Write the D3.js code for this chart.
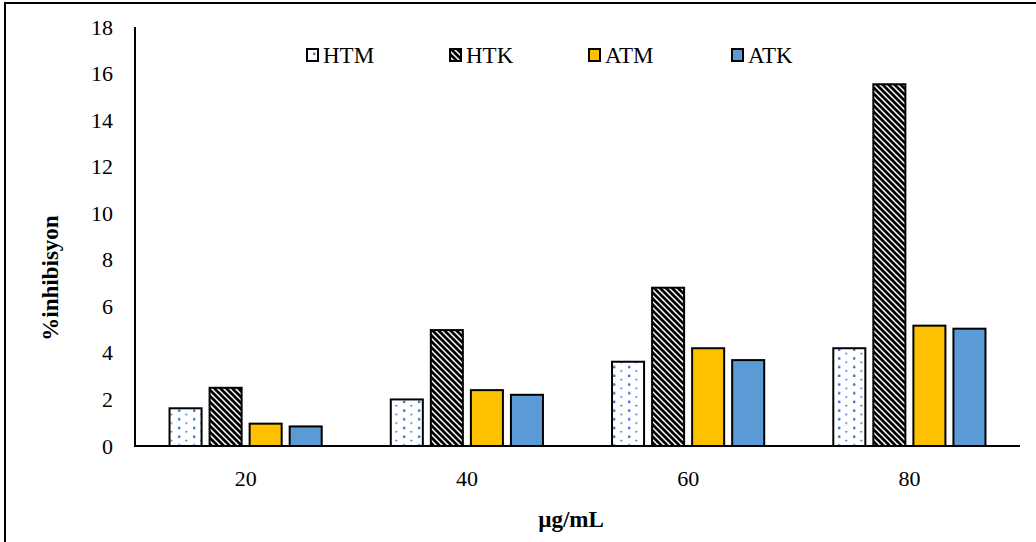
<!DOCTYPE html>
<html><head><meta charset="utf-8">
<script src="https://cdn.jsdelivr.net/npm/d3@7"></script>
<style>body{margin:0;background:#fff}svg{display:block}</style>
</head><body>
<svg id="c" width="1036" height="542"></svg>
<script>
const categories = ["20","40","60","80"];
const seriesNames = ["HTM","HTK","ATM","ATK"];
const HTM = [1.62, 2.0, 3.62, 4.2];
const HTK = [2.5, 4.98, 6.8, 15.54];
const ATM = [0.96, 2.4, 4.2, 5.17];
const ATK = [0.84, 2.2, 3.69, 5.04];
const yTicks = [0,2,4,6,8,10,12,14,16,18];
const seriesValues = {HTM, HTK, ATM, ATK};
const FONT = "Liberation Serif";

const svg = d3.select("#c");
const defs = svg.append("defs");
// dotted pattern
const pd = defs.append("pattern").attr("id","dots").attr("patternUnits","userSpaceOnUse")
  .attr("width",15).attr("height",8.7).attr("x",178).attr("y",0);
pd.append("rect").attr("width",15).attr("height",8.7).attr("fill","#fff");
pd.append("rect").attr("x",0).attr("y",0.5).attr("width",2.4).attr("height",2.4).attr("fill","#3F74D6");
pd.append("rect").attr("x",7.3).attr("y",4.8).attr("width",2).attr("height",1.4).attr("fill","#3F74D6");
// diagonal stripes
const ps = defs.append("pattern").attr("id","stripes").attr("patternUnits","userSpaceOnUse")
  .attr("width",6).attr("height",6);
ps.append("rect").attr("width",6).attr("height",6).attr("fill","#fff");
ps.append("path").attr("d","M-1,-1 L7,7 M-4,2 L4,10 M2,-4 L10,4").attr("stroke","#000").attr("stroke-width",2.7);

const fills = {HTM:"url(#dots)", HTK:"url(#stripes)", ATM:"#FFC000", ATK:"#5B9BD5"};

// outer frame
svg.append("rect").attr("x",5).attr("y",3).attr("width",1200).attr("height",800)
  .attr("fill","none").attr("stroke","#000").attr("stroke-width",2);

const x0 = d3.scaleBand().domain(categories).range([135,1020]).paddingInner(0).paddingOuter(0);
const x1 = d3.scaleBand().domain(seriesNames).range([0,x0.bandwidth()]).paddingInner(0.2).paddingOuter(0.8625);
const y = d3.scaleLinear().domain([0,18]).range([446,27]);

// bars
const g = svg.append("g");
categories.forEach((c,i)=>{
  seriesNames.forEach(s=>{
    const v = seriesValues[s][i];
    g.append("rect").attr("x",x0(c)+x1(s)).attr("y",y(v))
      .attr("width",x1.bandwidth()).attr("height",y(0)-y(v))
      .attr("fill",fills[s]).attr("stroke","#000").attr("stroke-width",2);
  });
});

// y axis
const ya = svg.append("g").attr("transform","translate(135,0)")
  .call(d3.axisLeft(y).tickValues(yTicks).tickSize(0).tickPadding(22));
ya.attr("font-family",FONT).attr("font-size",22);
ya.select(".domain").remove();
ya.selectAll("text").attr("fill","#000");
svg.append("line").attr("x1",135).attr("x2",135).attr("y1",27).attr("y2",447).attr("stroke","#000").attr("stroke-width",2);

// x axis
const xa = svg.append("g").attr("transform","translate(0,446)")
  .call(d3.axisBottom(x0).tickSize(0).tickPadding(24));
xa.attr("font-family",FONT).attr("font-size",22);
xa.select(".domain").remove();
xa.selectAll("text").attr("fill","#000");
svg.append("line").attr("x1",134).attr("x2",1020).attr("y1",446).attr("y2",446).attr("stroke","#000").attr("stroke-width",2);

// axis titles
svg.append("text").attr("transform","translate(58,278) rotate(-90)").attr("text-anchor","middle")
  .attr("font-family",FONT).attr("font-size",23).attr("font-weight","bold").text("%inhibisyon");
svg.append("text").attr("x",571).attr("y",527).attr("text-anchor","middle")
  .attr("font-family",FONT).attr("font-size",23).attr("font-weight","bold").text("µg/mL");

// legend
const legX = [307, 450, 589, 732];
seriesNames.forEach((s,i)=>{
  svg.append("rect").attr("x",legX[i]).attr("y",49).attr("width",11).attr("height",12)
    .attr("fill",fills[s]).attr("stroke","#000").attr("stroke-width",2);
  svg.append("text").attr("x",legX[i]+16).attr("y",63).attr("font-family",FONT).attr("font-size",23).text(s);
});
</script>
</body></html>
